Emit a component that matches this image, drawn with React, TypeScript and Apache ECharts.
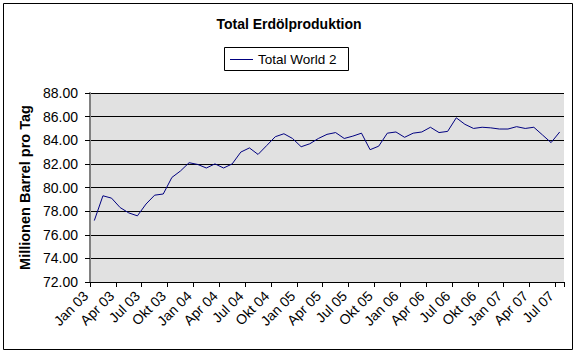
import React, { useEffect, useRef } from "react";
import * as echarts from "echarts";

const monthNames = ["Jan", "Feb", "Mrz", "Apr", "Mai", "Jun", "Jul", "Aug", "Sep", "Okt", "Nov", "Dez"];
const years = ["03", "04", "05", "06", "07"];
const categories: string[] = [];
years.forEach((y) => monthNames.forEach((m) => categories.push(m + " " + y)));
categories.length = 55; // Jan 03 .. Jul 07

const seriesName = "Total World 2";
const totalWorld2 = [
  77.2, 79.3, 79.1, 78.3, 77.85, 77.6, 78.6, 79.35, 79.45, 80.85, 81.4, 82.1,
  81.95, 81.65, 82.0, 81.65, 82.0, 83.0, 83.35, 82.8, 83.55, 84.3, 84.55, 84.15,
  83.45, 83.7, 84.15, 84.5, 84.65, 84.15, 84.35, 84.6, 83.2, 83.5, 84.6, 84.7,
  84.25, 84.6, 84.7, 85.1, 84.65, 84.75, 85.9, 85.35, 85.0, 85.1, 85.05, 84.95,
  84.95, 85.15, 85.0, 85.1, 84.45, 83.8, 84.7,
];

const FONT = '"Liberation Sans", Arial, sans-serif';
const LINE_COLOR = "#000080";

export default function App() {
  const ref = useRef<HTMLDivElement>(null);
  useEffect(() => {
    if (!ref.current) return;
    const chart = echarts.init(ref.current, undefined, { renderer: "svg" });
    chart.setOption({
      animation: false,
      backgroundColor: "#ffffff",
      title: {
        text: "Total Erdölproduktion",
        left: "center",
        top: 17,
        padding: 0,
        textStyle: { fontFamily: FONT, fontSize: 14, fontWeight: "bold", color: "#000" },
      },
      legend: { show: false },
      graphic: [
        {
          type: "rect",
          shape: { x: 3.5, y: 3.5, width: 569, height: 346 },
          style: { fill: "none", stroke: "#000", lineWidth: 1 },
          silent: true,
        },
        {
          type: "rect",
          shape: { x: 224.5, y: 47.5, width: 124, height: 23 },
          style: { fill: "#fff", stroke: "#000", lineWidth: 1 },
          silent: true,
        },
        {
          type: "line",
          shape: { x1: 230, y1: 59.5, x2: 253, y2: 59.5 },
          style: { stroke: LINE_COLOR, lineWidth: 1 },
          silent: true,
        },
        {
          type: "text",
          x: 258,
          y: 59.5,
          style: {
            text: seriesName,
            fontFamily: FONT,
            fontSize: 13.5,
            fill: "#000",
            textVerticalAlign: "middle",
            verticalAlign: "middle",
          },
          silent: true,
        },
      ],
      grid: {
        left: 90,
        right: 14,
        top: 93,
        bottom: 72,
        show: true,
        backgroundColor: "#E1E1E1",
        borderWidth: 0,
        containLabel: false,
      },
      xAxis: {
        type: "category",
        data: categories,
        boundaryGap: true,
        axisLine: { lineStyle: { color: "#000", width: 1 } },
        axisTick: { show: true, interval: 2, length: 5, lineStyle: { color: "#000" } },
        axisLabel: {
          interval: 2,
          rotate: 45,
          margin: 3,
          padding: [0, 12, 0, 0],
          fontFamily: FONT,
          fontSize: 14,
          color: "#000",
        },
        splitLine: { show: false },
      },
      yAxis: {
        type: "value",
        min: 72,
        max: 88,
        interval: 2,
        name: "Millionen Barrel pro Tag",
        nameLocation: "middle",
        nameRotate: 90,
        nameGap: 56,
        nameTextStyle: { fontFamily: FONT, fontSize: 14.5, fontWeight: "bold", color: "#000" },
        axisLine: { show: true, lineStyle: { color: "#808080", width: 2 } },
        axisTick: { show: true, length: 5, lineStyle: { color: "#000" } },
        axisLabel: {
          margin: 12,
          fontFamily: FONT,
          fontSize: 14,
          color: "#000",
          formatter: (v: number) => v.toFixed(2),
        },
        splitLine: { show: true, lineStyle: { color: "#000", width: 1 } },
      },
      series: [
        {
          name: seriesName,
          type: "line",
          data: totalWorld2,
          symbol: "none",
          lineStyle: { color: LINE_COLOR, width: 1 },
          itemStyle: { color: LINE_COLOR },
        },
      ],
    });
    return () => chart.dispose();
  }, []);
  return (
    <div
      ref={ref}
      style={{ position: "absolute", left: 0, top: 0, width: 578, height: 354 }}
    />
  );
}
